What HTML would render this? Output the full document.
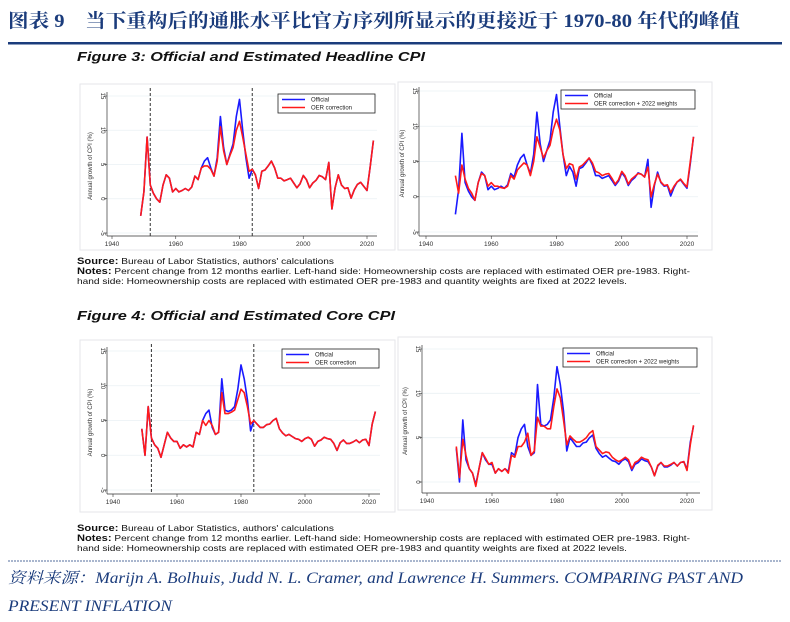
<!DOCTYPE html>
<html><head><meta charset="utf-8"><style>
body{margin:0;background:#fff}
svg{display:block}
</style></head><body>
<svg id="root" width="790" height="622" viewBox="0 0 790 622" xmlns="http://www.w3.org/2000/svg">
<text x="8" y="27" textLength="732" lengthAdjust="spacingAndGlyphs" font-family="'Liberation Serif','Noto Serif CJK SC',serif" font-weight="bold" font-size="19" fill="#1b3c7c">图表 9　当下重构后的通胀水平比官方序列所显示的更接近于 1970-80 年代的峰值</text>
<rect x="8" y="42" width="774" height="2.5" fill="#1b3c7c"/>
<text x="77" y="61" textLength="348" lengthAdjust="spacingAndGlyphs" font-family="'Liberation Sans',sans-serif" font-weight="bold" font-style="italic" font-size="13" fill="#111">Figure 3: Official and Estimated Headline CPI</text>
<g font-family="'Liberation Sans',sans-serif" font-size="8.2" fill="#111">
<text x="77" y="264" textLength="257" lengthAdjust="spacingAndGlyphs"><tspan font-weight="bold" font-size="9">Source:</tspan> Bureau of Labor Statistics, authors' calculations</text>
<text x="77" y="274" textLength="613" lengthAdjust="spacingAndGlyphs"><tspan font-weight="bold" font-size="9">Notes:</tspan> Percent change from 12 months earlier. Left-hand side: Homeownership costs are replaced with estimated OER pre-1983. Right-</text>
<text x="77" y="284" textLength="550" lengthAdjust="spacingAndGlyphs">hand side: Homeownership costs are replaced with estimated OER pre-1983 and quantity weights are fixed at 2022 levels.</text>
</g>
<text x="77" y="320" textLength="318" lengthAdjust="spacingAndGlyphs" font-family="'Liberation Sans',sans-serif" font-weight="bold" font-style="italic" font-size="13" fill="#111">Figure 4: Official and Estimated Core CPI</text>
<g font-family="'Liberation Sans',sans-serif" font-size="8.2" fill="#111">
<text x="77" y="531" textLength="257" lengthAdjust="spacingAndGlyphs"><tspan font-weight="bold" font-size="9">Source:</tspan> Bureau of Labor Statistics, authors' calculations</text>
<text x="77" y="541" textLength="613" lengthAdjust="spacingAndGlyphs"><tspan font-weight="bold" font-size="9">Notes:</tspan> Percent change from 12 months earlier. Left-hand side: Homeownership costs are replaced with estimated OER pre-1983. Right-</text>
<text x="77" y="551" textLength="550" lengthAdjust="spacingAndGlyphs">hand side: Homeownership costs are replaced with estimated OER pre-1983 and quantity weights are fixed at 2022 levels.</text>
</g>
<line x1="8" y1="561" x2="782" y2="561" stroke="#1b3c7c" stroke-width="0.8" stroke-dasharray="2,1"/>
<text x="8" y="583" textLength="735" lengthAdjust="spacingAndGlyphs" font-family="'Liberation Serif','Noto Serif CJK SC',serif" font-style="italic" font-size="15.5" fill="#1b3c7c">资料来源：Marijn A. Bolhuis, Judd N. L. Cramer, and Lawrence H. Summers. COMPARING PAST AND</text>
<text x="8" y="611" textLength="164" lengthAdjust="spacingAndGlyphs" font-family="'Liberation Serif',serif" font-style="italic" font-size="15.5" fill="#1b3c7c">PRESENT INFLATION</text>
</svg>
<script>
const years=[];for(let y=1949;y<=2022;y++)years.push(y);
const headlineOfficial=[-2.5,1,9,2,0.8,0,-0.5,2,3.5,3, 1,1.5,1,1.2,1.5,1.2,1.7,3.3,2.8,4.5, 5.5,6,4.5,3.3,6,12,7.5,5,6.5,8, 12,14.5,10,6,3,4.3,3.5,1.5,4,4.2, 4.8,5.5,4.5,3,3,2.6,2.8,3,2.3,1.6, 2.2,3.4,2.8,1.6,2.3,2.7,3.4,3.2,2.8,5.3, -1.5,1.6,3.5,2,1.5,1.6,0.1,1.3,2.1,2.4, 1.8,1.2,4.7,8.5];
const headlineOER=[-2.5,1,9,2,0.8,0,-0.5,2,3.5,3, 1,1.5,1,1.2,1.5,1.2,1.7,3.3,2.8,4.5, 4.8,4.8,4.3,3.3,5.5,10.5,7,5,6.3,7.5, 10,11.3,9,6.5,4,4.3,3.5,1.5,4,4.2, 4.8,5.5,4.5,3,3,2.6,2.8,3,2.3,1.6, 2.2,3.4,2.8,1.6,2.3,2.7,3.4,3.2,2.8,5.3, -1.5,1.6,3.5,2,1.5,1.6,0.1,1.3,2.1,2.4, 1.8,1.2,4.7,8.5];
const headlineOER2022=[3,0.5,4.5,2.5,1.2,0.5,-0.5,2,3.3,3, 1.5,2,1.5,1.5,1.3,1.2,1.5,3,2.5,3.8, 4.3,4.8,4.5,3,5,8.5,7,5.5,6.5,7.3, 9.5,11,9.5,6,4,4.7,4.5,2.5,4.2,4.5, 5,5.5,4.8,3.6,3.4,3,3.2,3.3,2.6,1.8, 2.4,3.6,3,1.8,2.5,2.9,3.3,3.2,2.8,4.2, 0,1.8,3.2,2.1,1.6,1.7,0.6,1.5,2.1,2.5, 1.9,1.4,5,8.5];
const coreOfficial=[3.8,0,7,2.5,1.5,1,-0.3,1.5,3.3,2.5, 2,2,1,1.5,1.2,1.5,1.2,3.3,3,5, 6,6.5,4,3,3.3,11,6.5,6.3,6.5,7, 9.5,13,11,8,3.5,5,4.5,4,4,4.4, 4.5,5,5.3,3.8,3.2,2.8,3,2.7,2.4,2.3, 2,2.4,2.6,2.3,1.3,2,2.2,2.6,2.4,2.3, 1.7,0.7,1.8,2.2,1.7,1.7,1.9,2.2,1.8,2.2, 2.3,1.4,4.5,6.3];
const coreOER=[3.8,0,7,2.5,1.5,1,-0.3,1.5,3.3,2.5, 2,2,1,1.5,1.2,1.5,1.2,3.3,3,5, 4.3,5,4.3,3,3.3,9,6,6,6.2,6.5, 8,9.5,9,7,4.5,5,4.5,4,4,4.4, 4.5,5,5.3,3.8,3.2,2.8,3,2.7,2.4,2.3, 2,2.4,2.6,2.3,1.3,2,2.2,2.6,2.4,2.3, 1.7,0.7,1.8,2.2,1.7,1.7,1.9,2.2,1.8,2.2, 2.3,1.4,4.5,6.3];
const coreOER2022=[4,0.5,4.8,3,1.5,1,-0.5,1.5,3.3,2.7, 2,2.2,1,1.5,1.2,1.5,1,3,2.8,4, 4,4.5,5.5,3,3.5,7.3,6.3,6.3,6,6, 8.5,10.5,9.5,7,4.2,5.2,4.8,4.5,4.5,4.7, 5,5.5,5.8,4,3.6,3.2,3.4,3.3,2.8,2.5, 2.3,2.5,2.8,2.5,1.5,2.2,2.4,2.8,2.6,2.5, 1.7,0.7,1.9,2.2,1.8,1.8,2,2.2,1.8,2.2, 2.3,1.3,4.2,6.4];
const xTicks=[1940,1960,1980,2000,2020];
const yTicksFull=[15,10,5,0,-5];
const yTicksCore=[15,10,5,0];
const breakYears=[1952,1984];

const NS='http://www.w3.org/2000/svg';
const root=document.getElementById('root');
function mk(tag,attrs,parent){const e=document.createElementNS(NS,tag);for(const k in attrs)e.setAttribute(k,attrs[k]);(parent||root).appendChild(e);return e;}

function chart(c){
  const g=mk('g',{});
  
  
  const X=y=>c.x0+(y-1940)*(c.x1-c.x0)/80;
  const Y=v=>c.y15+(15-v)*c.ppu;
  const fr=mk('rect',{x:c.px,y:c.py,width:c.pw,height:c.ph,fill:'#fff',stroke:'#e4e6ea','stroke-width':1},g);
  
  
  c.yt.forEach(v=>{
    const gl=mk('line',{x1:c.ax,x2:c.right,y1:Y(v),y2:Y(v),stroke:'#eaf0f4','stroke-width':0.8},g);
    
    
    mk('line',{x1:c.ax-3,x2:c.ax,y1:Y(v),y2:Y(v),stroke:'#333','stroke-width':0.6},g);
    const t=mk('text',{x:c.ax-6,y:Y(v),'font-size':6,'font-family':'Liberation Sans,sans-serif',fill:'#333','text-anchor':'middle',transform:`rotate(90 ${c.ax-6} ${Y(v)})`},g);
    t.textContent=v;
    
    
  });
  xTicks.forEach(v=>{
    mk('line',{x1:X(v),x2:X(v),y1:c.ay,y2:c.ay+3,stroke:'#333','stroke-width':0.6},g);
    const t=mk('text',{x:X(v),y:c.ay+10,'font-size':6.5,'font-family':'Liberation Sans,sans-serif',fill:'#333','text-anchor':'middle'},g);
    t.textContent=v;
    
    
  });
  const ya=mk('line',{x1:c.ax,x2:c.ax,y1:c.y15-4,y2:c.ay,stroke:'#333','stroke-width':0.7},g);
  
  
  const xa=mk('line',{x1:c.ax,x2:c.right,y1:c.ay,y2:c.ay,stroke:'#333','stroke-width':0.7},g);
  
  
  const tx=c.ax-15, ty=(c.y15+c.ay)/2;
  const yt=mk('text',{x:tx,y:ty,'font-size':6,'font-family':'Liberation Sans,sans-serif',fill:'#333','text-anchor':'middle',transform:`rotate(-90 ${tx} ${ty})`},g);
  yt.textContent='Annual growth of CPI (%)';
  
  
  if(c.breaks){breakYears.forEach(b=>{
    const l=mk('line',{x1:X(b),x2:X(b),y1:c.py+4,y2:c.ay,stroke:'#333','stroke-width':1,'stroke-dasharray':'3,2'},g);
    
    
  });}
  const pts=s=>s.map((v,i)=>X(years[i]).toFixed(1)+','+Y(v).toFixed(1)).join(' ');
  const lo=mk('polyline',{points:pts(c.off),fill:'none',stroke:'#1a1aff','stroke-width':1.6,'stroke-linejoin':'round'},g);
  
  
  const lr=mk('polyline',{points:pts(c.oer),fill:'none',stroke:'#ff1a1a','stroke-width':1.6,'stroke-linejoin':'round'},g);
  
  
  const lg=mk('g',{},g);
  
  
  mk('rect',{x:c.lx,y:c.ly,width:c.lw,height:19,fill:'#fff',stroke:'#222','stroke-width':0.8},lg);
  [['#1a1aff','Official'],['#ff1a1a',c.lab]].forEach((e,i)=>{
    const yy=c.ly+5.5+i*8;
    mk('line',{x1:c.lx+4,x2:c.lx+27,y1:yy,y2:yy,stroke:e[0],'stroke-width':1.6},lg);
    const t=mk('text',{x:c.lx+33,y:yy+2,'font-size':6,'font-family':'Liberation Sans,sans-serif',fill:'#222'},lg);
    t.textContent=e[1];
    
    
  });
}
chart({name:'headline-cpi-left',x0:112,x1:367,y15:96,ppu:137/20,ax:107,ay:236,right:377,px:80,py:84,pw:315,ph:166,yt:yTicksFull,breaks:true,off:headlineOfficial,oer:headlineOER,lx:278,ly:94,lw:97,lab:'OER correction'});
chart({name:'headline-cpi-right',x0:426,x1:687,y15:91,ppu:141/20,ax:419,ay:236,right:698,px:398,py:82,pw:314,ph:168,yt:yTicksFull,breaks:false,off:headlineOfficial,oer:headlineOER2022,lx:561,ly:90,lw:134,lab:'OER correction + 2022 weights'});
chart({name:'core-cpi-left',x0:113,x1:369,y15:351,ppu:139/20,ax:107,ay:494,right:380,px:80,py:340,pw:315,ph:172,yt:yTicksFull,breaks:true,off:coreOfficial,oer:coreOER,lx:282,ly:349,lw:97,lab:'OER correction'});
chart({name:'core-cpi-right',x0:427,x1:687,y15:349,ppu:133/15,ax:422,ay:493,right:700,px:398,py:337,pw:314,ph:173,yt:yTicksCore,breaks:false,off:coreOfficial,oer:coreOER2022,lx:563,ly:348,lw:134,lab:'OER correction + 2022 weights'});
</script>
</body></html>
